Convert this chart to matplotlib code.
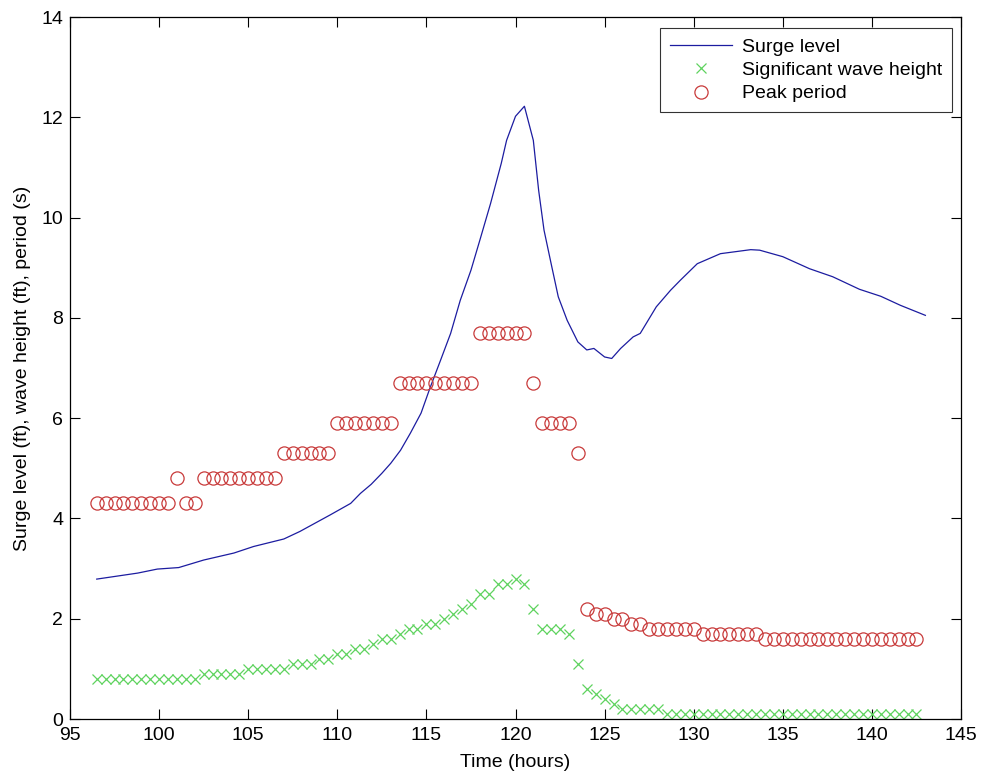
import matplotlib
matplotlib.use("Agg")
import matplotlib.pyplot as plt

plt.rcParams['font.family'] = ['Liberation Sans', 'DejaVu Sans']

# Surge level (ft) trace
surge_time = [96.5, 98.8, 99.9, 101.1, 102.5, 104.2, 105.3, 107.0, 107.9, 109.6,
              110.75, 111.3, 111.9, 112.5, 113.0, 113.55, 114.1, 114.7, 115.2, 115.8,
              116.36, 116.9, 117.5, 118.0, 118.6, 119.2, 119.5, 120.0, 120.5, 121.0,
              121.3, 121.6, 122.0, 122.4, 122.9, 123.5, 124.0, 124.4, 125.0, 125.4,
              125.9, 126.6, 127.0, 127.9, 128.7, 129.25, 130.2, 131.5, 133.2, 133.7,
              135.0, 136.5, 137.8, 139.3, 140.5, 141.6, 143.0]
surge_level = [2.79, 2.91, 2.99, 3.02, 3.17, 3.31, 3.44, 3.59, 3.74, 4.07,
               4.3, 4.5, 4.68, 4.9, 5.1, 5.36, 5.7, 6.1, 6.6, 7.16,
               7.69, 8.35, 8.95, 9.55, 10.28, 11.08, 11.54, 12.02, 12.22, 11.54,
               10.54, 9.75, 9.08, 8.42, 7.95, 7.52, 7.36, 7.39, 7.22, 7.19,
               7.39, 7.62, 7.69, 8.22, 8.55, 8.75, 9.08, 9.28, 9.36, 9.35,
               9.22, 8.98, 8.82, 8.57, 8.43, 8.25, 8.05]

# Sample times (hours) for wave height and peak period
sample_time = [96.5, 97.0, 97.5, 98.0, 98.5, 99.0, 99.5, 100.0, 100.5, 101.0,
               101.5, 102.0, 102.5, 103.0, 103.5, 104.0, 104.5, 105.0, 105.5, 106.0,
               106.5, 107.0, 107.5, 108.0, 108.5, 109.0, 109.5, 110.0, 110.5, 111.0,
               111.5, 112.0, 112.5, 113.0, 113.5, 114.0, 114.5, 115.0, 115.5, 116.0,
               116.5, 117.0, 117.5, 118.0, 118.5, 119.0, 119.5, 120.0, 120.5, 121.0,
               121.5, 122.0, 122.5, 123.0, 123.5, 124.0, 124.5, 125.0, 125.5, 126.0,
               126.5, 127.0, 127.5, 128.0, 128.5, 129.0, 129.5, 130.0, 130.5, 131.0,
               131.5, 132.0, 132.5, 133.0, 133.5, 134.0, 134.5, 135.0, 135.5, 136.0,
               136.5, 137.0, 137.5, 138.0, 138.5, 139.0, 139.5, 140.0, 140.5, 141.0,
               141.5, 142.0, 142.5]

wave_height = [0.8, 0.8, 0.8, 0.8, 0.8, 0.8, 0.8, 0.8, 0.8, 0.8,
               0.8, 0.8, 0.9, 0.9, 0.9, 0.9, 0.9, 1.0, 1.0, 1.0,
               1.0, 1.0, 1.1, 1.1, 1.1, 1.2, 1.2, 1.3, 1.3, 1.4,
               1.4, 1.5, 1.6, 1.6, 1.7, 1.8, 1.8, 1.9, 1.9, 2.0,
               2.1, 2.2, 2.3, 2.5, 2.5, 2.7, 2.7, 2.8, 2.7, 2.2,
               1.8, 1.8, 1.8, 1.7, 1.1, 0.6, 0.5, 0.4, 0.3, 0.2,
               0.2, 0.2, 0.2, 0.2, 0.1, 0.1, 0.1, 0.1, 0.1, 0.1,
               0.1, 0.1, 0.1, 0.1, 0.1, 0.1, 0.1, 0.1, 0.1, 0.1,
               0.1, 0.1, 0.1, 0.1, 0.1, 0.1, 0.1, 0.1, 0.1, 0.1,
               0.1, 0.1, 0.1]

peak_period = [4.3, 4.3, 4.3, 4.3, 4.3, 4.3, 4.3, 4.3, 4.3, 4.8,
               4.3, 4.3, 4.8, 4.8, 4.8, 4.8, 4.8, 4.8, 4.8, 4.8,
               4.8, 5.3, 5.3, 5.3, 5.3, 5.3, 5.3, 5.9, 5.9, 5.9,
               5.9, 5.9, 5.9, 5.9, 6.7, 6.7, 6.7, 6.7, 6.7, 6.7,
               6.7, 6.7, 6.7, 7.7, 7.7, 7.7, 7.7, 7.7, 7.7, 6.7,
               5.9, 5.9, 5.9, 5.9, 5.3, 2.2, 2.1, 2.1, 2.0, 2.0,
               1.9, 1.9, 1.8, 1.8, 1.8, 1.8, 1.8, 1.8, 1.7, 1.7,
               1.7, 1.7, 1.7, 1.7, 1.7, 1.6, 1.6, 1.6, 1.6, 1.6,
               1.6, 1.6, 1.6, 1.6, 1.6, 1.6, 1.6, 1.6, 1.6, 1.6,
               1.6, 1.6, 1.6]

x_ticks = [95, 100, 105, 110, 115, 120, 125, 130, 135, 140, 145]
y_ticks = [0, 2, 4, 6, 8, 10, 12, 14]

fig = plt.figure(figsize=(9.82, 7.8), dpi=100)
ax = fig.add_axes([70/982, 61/780, 891/982, 702/780])

ax.plot(surge_time, surge_level, color='#1c1ca0', lw=0.9, label='Surge level')
ax.plot(sample_time, wave_height, linestyle='none', marker='x', color='#5fd35f',
        markersize=7, markeredgewidth=0.9, label='Significant wave height')
ax.plot(sample_time, peak_period, linestyle='none', marker='o', markerfacecolor='none',
        markeredgecolor='#c83a3a', markersize=9.5, markeredgewidth=0.9, label='Peak period')

ax.set_xlim(95, 145)
ax.set_ylim(0, 14)
ax.set_xticks(x_ticks)
ax.set_yticks(y_ticks)
ax.tick_params(direction='in', length=7.2, width=0.8, top=True, right=True,
               labelsize=14)
ax.tick_params(axis='x', pad=6)
ax.tick_params(axis='y', pad=5)
for s in ax.spines.values():
    s.set_linewidth(0.9)
ax.set_xlabel('Time (hours)', fontsize=14, labelpad=7)
ax.set_ylabel('Surge level (ft), wave height (ft), period (s)', fontsize=14, labelpad=7)

leg = ax.legend(loc='upper right', bbox_to_anchor=(0.99, 0.984), fontsize=14,
                frameon=True, fancybox=False, edgecolor='black', borderaxespad=0,
                handlelength=3.2, handletextpad=0.5, labelspacing=0.3,
                borderpad=0.5)
leg.get_frame().set_linewidth(0.8)

fig.savefig('out.png', dpi=100)
